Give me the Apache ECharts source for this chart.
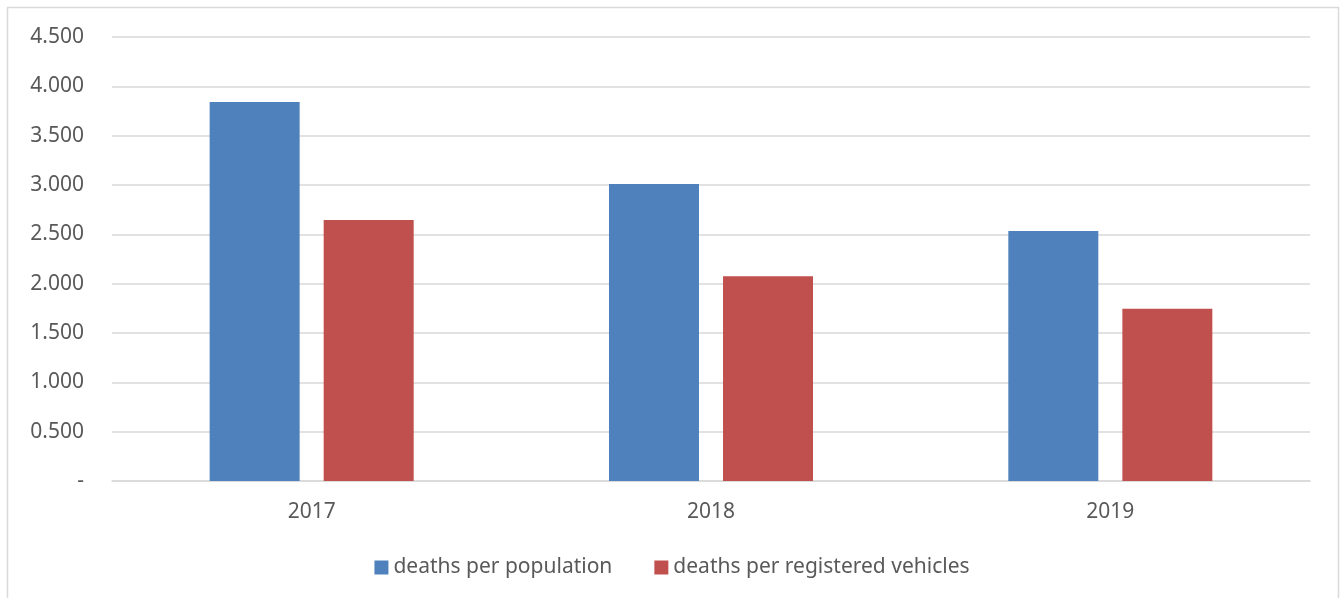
<!DOCTYPE html>
<html>
<head>
<meta charset="utf-8">
<script src="https://cdn.jsdelivr.net/npm/echarts@6/dist/echarts.min.js"></script>
<style>
  html, body { margin: 0; padding: 0; background: #fff; }
  #chart { width: 1344px; height: 598px; }
</style>
</head>
<body>
<div id="chart"></div>
<script>
// Road fatality rates by year
const years = ['2017', '2018', '2019'];
const deathsPerPopulation = [3.84, 3.01, 2.535];
const deathsPerVehicles = [2.645, 2.075, 1.745];
const seriesNames = ['deaths per population', 'deaths per registered vehicles'];

const FONT = '"Noto Sans", "Open Sans", sans-serif';
const chart = echarts.init(document.getElementById('chart'), null, { renderer: 'canvas' });

chart.setOption({
  backgroundColor: '#ffffff',
  animation: false,
  textStyle: { fontFamily: FONT },
  graphic: [{
    type: 'rect',
    shape: { x: 7.5, y: 7.5, width: 1331, height: 620 },
    style: { fill: 'none', stroke: '#d9d9d9', lineWidth: 1.5 },
    silent: true
  }],
  grid: { left: 112, right: 34, top: 37, bottom: 117, containLabel: false },
  legend: {
    bottom: 15,
    left: 'center',
    itemWidth: 14,
    itemHeight: 14,
    itemGap: 42,
    icon: 'rect',
    textStyle: { fontFamily: FONT, fontSize: 21, color: '#595959' },
    data: seriesNames
  },
  xAxis: {
    type: 'category',
    data: years,
    axisLine: { lineStyle: { color: '#d9d9d9', width: 1.5 } },
    axisTick: { show: false },
    axisLabel: { color: '#595959', fontSize: 21, fontFamily: FONT, margin: 21 }
  },
  yAxis: {
    type: 'value',
    min: 0,
    max: 4.5,
    interval: 0.5,
    axisLine: { show: false },
    axisTick: { show: false },
    splitLine: { lineStyle: { color: '#d9d9d9', width: 1.5 } },
    axisLabel: {
      color: '#595959',
      fontSize: 21,
      fontFamily: FONT,
      margin: 28,
      formatter: v => (v === 0 ? '-' : v.toFixed(3))
    }
  },
  series: [
    {
      name: seriesNames[0],
      type: 'bar',
      data: deathsPerPopulation,
      barWidth: 90,
      barGap: '26.7%',
      itemStyle: { color: '#4f81bd' }
    },
    {
      name: seriesNames[1],
      type: 'bar',
      data: deathsPerVehicles,
      barWidth: 90,
      barGap: '26.7%',
      itemStyle: { color: '#c0504d' }
    }
  ]
});
</script>
</body>
</html>
